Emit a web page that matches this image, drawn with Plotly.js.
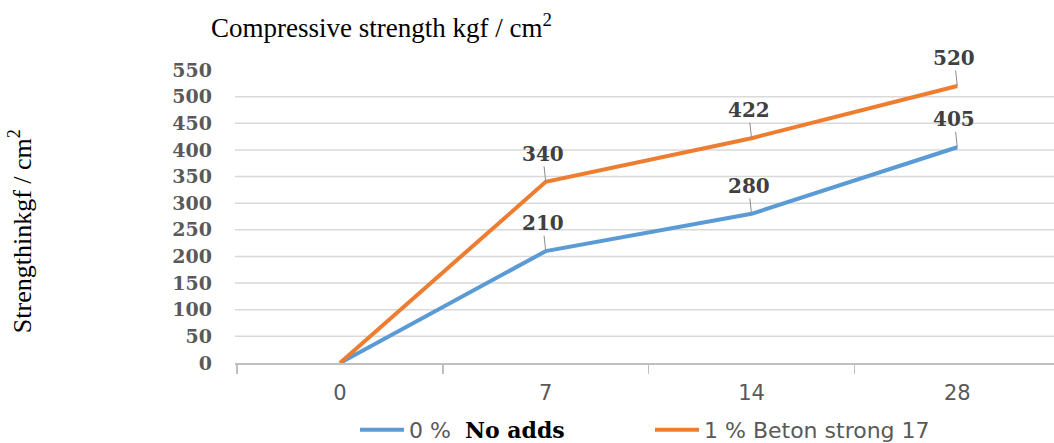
<!DOCTYPE html>
<html>
<head>
<meta charset="utf-8">
<script src="https://cdn.plot.ly/plotly-3.0.1.min.js"></script>
<style>
  html, body { margin: 0; padding: 0; background: #ffffff; }
  #chart { width: 1054px; height: 443px; }
</style>
</head>
<body>
<div id="chart"></div>
<script>
// Curing age (days) on the x axis
const days = ['0', '7', '14', '28'];

// Compressive strength, kgf / cm^2
const noAdds = [0, 210, 280, 405];
const betonStrong = [0, 340, 422, 520];

// Series names
const seriesNames = [
  '0 %  <span style="font-family:\'DejaVu Serif\';font-weight:bold;fill:#000000">No adds</span>',
  '1 % Beton strong 17'
];

// Y axis tick values
const yTicks = [0, 50, 100, 150, 200, 250, 300, 350, 400, 450, 500, 550];

const blue = '#5B9BD5';
const orange = '#ED7D31';
const numFont = { family: 'DejaVu Serif', size: 20, color: '#404040', weight: 'bold' };

const traces = [
  {
    x: days, y: noAdds, name: seriesNames[0], type: 'scatter', mode: 'lines',
    line: { color: blue, width: 4 }
  },
  {
    x: days, y: betonStrong, name: seriesNames[1], type: 'scatter', mode: 'lines',
    line: { color: orange, width: 4 }
  }
];

// Value labels with short leader lines (the origin point is left unlabelled);
// x is given as the category index on the category axis
const annotations = [];
[noAdds, betonStrong].forEach(series => {
  series.forEach((v, i) => {
    if (i === 0) return;
    annotations.push({
      x: i, y: v, xref: 'x', yref: 'y',
      text: String(v),
      showarrow: true, arrowhead: 0, arrowwidth: 1, arrowcolor: '#8c8c8c',
      ax: -3, ay: -28, standoff: 0, borderpad: 0,
      font: numFont
    });
  });
});

// Rotated y axis title
annotations.push({
  xref: 'paper', yref: 'paper', x: -0.2625, y: 0.45,
  xanchor: 'center', yanchor: 'middle', textangle: -90, showarrow: false,
  text: 'Strengthinkgf / cm<sup>2</sup>',
  font: { family: 'Liberation Serif', size: 26, color: '#000000' }
});

// Horizontal gridlines below the top tick
const shapes = yTicks.filter(v => v > 0 && v < 550).map(v => ({
  type: 'line', xref: 'paper', yref: 'y', x0: 0, x1: 1, y0: v, y1: v,
  line: { color: '#d9d9d9', width: 1.5 }, layer: 'below'
}));

const layout = {
  width: 1054, height: 443,
  margin: { l: 235, r: 0, t: 70, b: 80 },
  paper_bgcolor: '#ffffff', plot_bgcolor: '#ffffff',
  showlegend: true,
  title: {
    text: 'Compressive strength kgf / cm<sup>2</sup>',
    xref: 'container', yref: 'container',
    x: 211 / 1054, xanchor: 'left', y: 1 - 28 / 443, yanchor: 'middle',
    font: { family: 'Liberation Serif', size: 27, color: '#000000' }
  },
  xaxis: {
    type: 'category', range: [-0.51, 3.47],
    showgrid: false, zeroline: false,
    showline: true, linecolor: '#bfbfbf', linewidth: 1.5,
    ticks: 'outside', tickson: 'boundaries', ticklen: 9, tickcolor: '#bfbfbf', tickwidth: 1.5,
    ticklabelstandoff: 10,
    tickfont: { family: 'DejaVu Sans', size: 21, color: '#595959' },
    fixedrange: true
  },
  yaxis: {
    range: [0, 550], tickvals: yTicks, ticktext: yTicks.map(String),
    showgrid: false, zeroline: false, showline: false, ticks: '',
    ticklabelstandoff: 22,
    tickfont: { family: 'DejaVu Serif', size: 19, color: '#595959', weight: 'bold' },
    fixedrange: true
  },
  legend: {
    orientation: 'h',
    xref: 'container', yref: 'container',
    x: 650 / 1054, xanchor: 'center', y: 1 - 430 / 443, yanchor: 'middle',
    font: { family: 'DejaVu Sans', size: 22, color: '#595959' },
    entrywidth: 236, itemwidth: 44,
    bgcolor: 'rgba(0,0,0,0)'
  },
  annotations: annotations,
  shapes: shapes
};

Plotly.newPlot('chart', traces, layout, { displayModeBar: false, staticPlot: true });
</script>
</body>
</html>
